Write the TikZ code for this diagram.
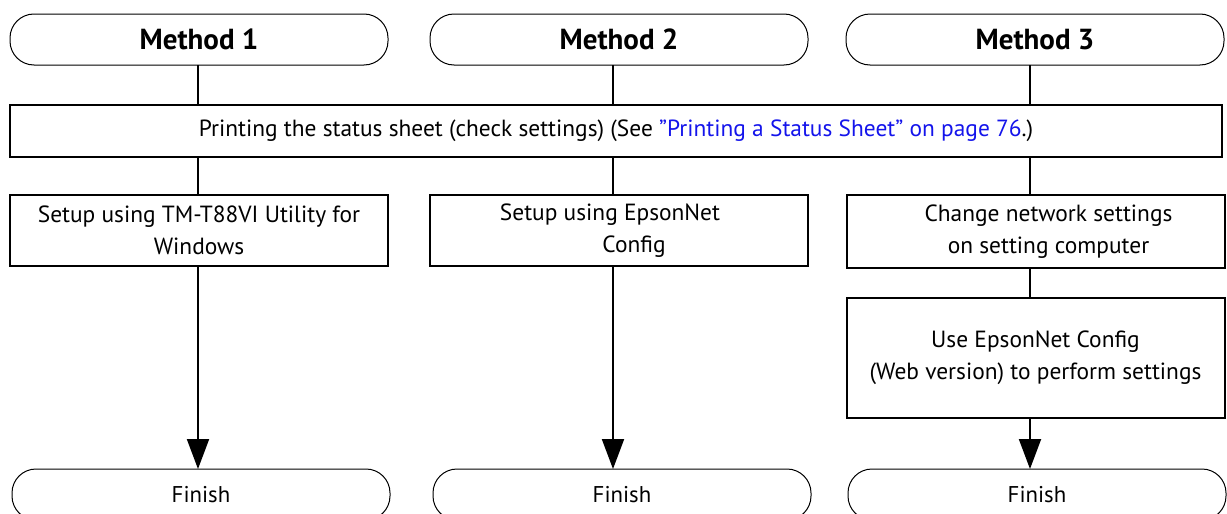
\documentclass[tikz,border=0pt]{standalone}
\usepackage{fontspec}
\setmainfont{PT Sans}
\usetikzlibrary{arrows.meta}
\definecolor{linkblue}{RGB}{20,20,235}
\begin{document}
\begin{tikzpicture}[x=1pt,y=-1pt,
  term/.style={draw, line width=1pt, rounded corners=24pt, minimum width=378pt, minimum height=51pt, inner sep=0pt, outer sep=0pt},
  proc/.style={draw, line width=2pt, inner sep=0pt, align=center, font=\fontsize{23.4}{32}\selectfont},
  conn/.style={line width=2pt},
  arr/.style={line width=2pt, -{Triangle[length=30pt,width=22pt]}},
  head/.style={font=\fontsize{29}{32}\selectfont\bfseries},
  fin/.style={font=\fontsize{22.8}{26}\selectfont}
]
\useasboundingbox (0,0) rectangle (1227,514);
\clip (0,0) rectangle (1227,514);
% top terminals
\node[term, head] (m1) at (199,39.5) {Method 1};
\node[term, head] (m2) at (619,39.5) {Method 2};
\node[term, head] (m3) at (1035,39.5) {Method 3};
% status sheet box
\node[proc, minimum width=1212pt, minimum height=52pt] (st) at (616,131)
  {Printing the status sheet (check settings) (See \textcolor{linkblue}{\symbol{34}Printing a Status Sheet\symbol{34} on page 76}.)};
% process boxes
\node[proc, minimum width=378pt, minimum height=71pt] (b1) at (199,230.5)
  {Setup using TM-T88VI Utility for\\Windows};
\node[proc, minimum width=378pt, minimum height=71pt] (b2) at (619,230.5)
  {Setup using EpsonNet\hspace*{18pt}\\\hspace*{30pt}Config};
\node[proc, minimum width=378pt, minimum height=73pt] (b3a) at (1035.5,231.5)
  {\hspace*{26pt}Change network settings\\\hspace*{26pt}on setting computer};
\node[proc, minimum width=378pt, minimum height=120pt] (b3b) at (1035.5,358)
  {Use EpsonNet Config\\(Web version) to perform settings};
% finish terminals
\node[term, fin] (f1) at (201,494.5) {Finish};
\node[term, fin] (f2) at (622,494.5) {Finish};
\node[term, fin] (f3) at (1037,494.5) {Finish};
% column coordinates
\coordinate (c1) at (198,0);
\coordinate (c2) at (613,0);
\coordinate (c3) at (1030,0);
% connectors
\draw[conn] (c1 |- m1.south) -- (c1 |- st.north);
\draw[conn] (c1 |- st.south) -- (c1 |- b1.north);
\draw[arr]  (c1 |- b1.south) -- (c1 |- f1.north);
\draw[conn] (c2 |- m2.south) -- (c2 |- st.north);
\draw[conn] (c2 |- st.south) -- (c2 |- b2.north);
\draw[arr]  (c2 |- b2.south) -- (c2 |- f2.north);
\draw[conn] (c3 |- m3.south) -- (c3 |- st.north);
\draw[conn] (c3 |- st.south) -- (c3 |- b3a.north);
\draw[conn] (c3 |- b3a.south) -- (c3 |- b3b.north);
\draw[arr]  (c3 |- b3b.south) -- (c3 |- f3.north);
\end{tikzpicture}
\end{document}
